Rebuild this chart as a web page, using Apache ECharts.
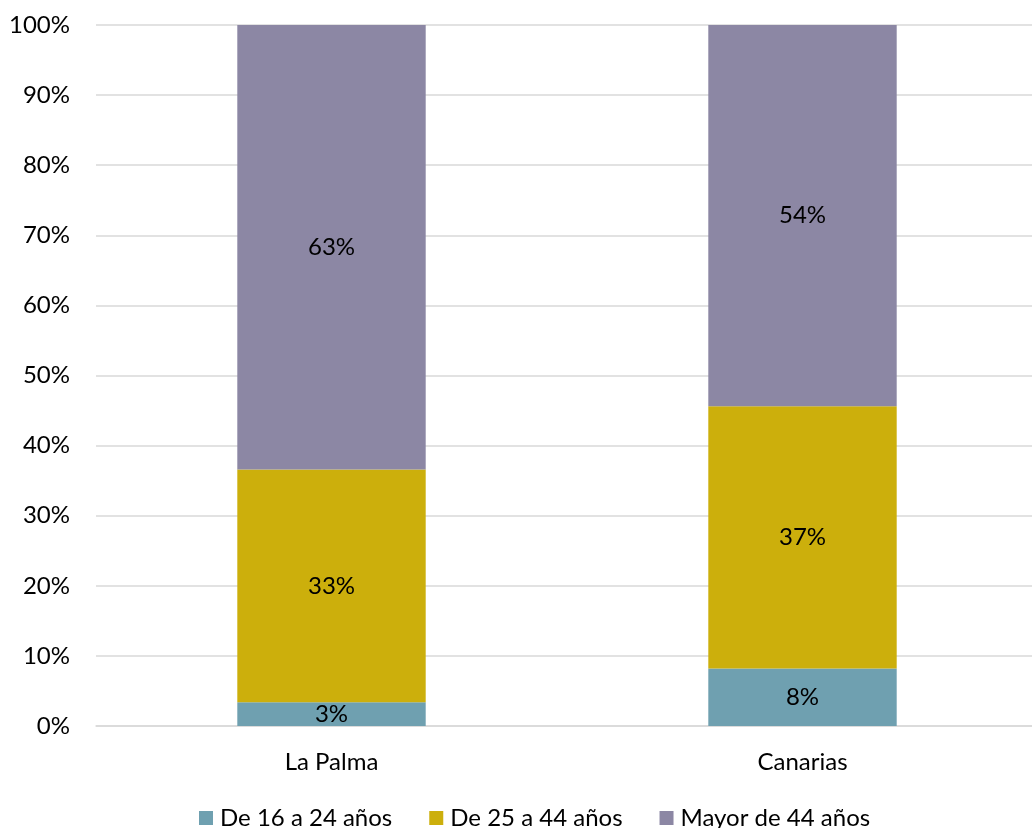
<!DOCTYPE html>
<html><head><meta charset="utf-8">
<script src="https://cdn.jsdelivr.net/npm/echarts@6/dist/echarts.min.js"></script>
<style>html,body{margin:0;padding:0;background:#fff;overflow:hidden}#c{width:1038px;height:828px}</style>
</head><body><div id="c"></div>
<script>
const categories = ['La Palma', 'Canarias'];
const seriesNames = ['De 16 a 24 años', 'De 25 a 44 años', 'Mayor de 44 años'];
const young = [3.4, 8.2];
const middle = [33.2, 37.4];
const older = [63.4, 54.4];
const colors = ['#6FA0B0', '#CCAF0C', '#8C87A4'];
const yTicks = [0, 10, 20, 30, 40, 50, 60, 70, 80, 90, 100];

const FONT = 'Lato, "Noto Sans", sans-serif';
const chart = echarts.init(document.getElementById('c'));
const mk = (name, data, color) => ({
  name, type: 'bar', stack: 'total', data, barWidth: '40%',
  itemStyle: { color },
  label: { show: true, position: 'inside', color: '#000', fontFamily: FONT, fontSize: 24,
    formatter: p => Math.round(p.value) + '%' }
});
chart.setOption({
  animation: false,
  textStyle: { fontFamily: FONT },
  grid: { left: 96, top: 25, right: 0, height: 701, containLabel: false },
  legend: {
    bottom: -7, left: 194, itemWidth: 14, itemHeight: 14, itemGap: 37,
    icon: 'rect',
    textStyle: { fontSize: 24, color: '#000', fontFamily: FONT, padding: [0, 0, 0, 2] },
    data: seriesNames
  },
  xAxis: {
    type: 'category', data: categories,
    axisLine: { lineStyle: { color: '#d9d9d9', width: 1.5 } },
    axisTick: { show: false },
    axisLabel: { color: '#000', fontSize: 24, margin: 24, fontFamily: FONT }
  },
  yAxis: {
    type: 'value', min: yTicks[0], max: yTicks[yTicks.length - 1], interval: 10,
    axisLine: { show: false }, axisTick: { show: false },
    splitLine: { lineStyle: { color: '#d9d9d9', width: 1.5 } },
    axisLabel: { color: '#000', fontSize: 24, margin: 26, fontFamily: FONT,
      formatter: v => v + '%' }
  },
  series: [
    mk(seriesNames[0], young, colors[0]),
    mk(seriesNames[1], middle, colors[1]),
    mk(seriesNames[2], older, colors[2])
  ]
});
</script></body></html>
